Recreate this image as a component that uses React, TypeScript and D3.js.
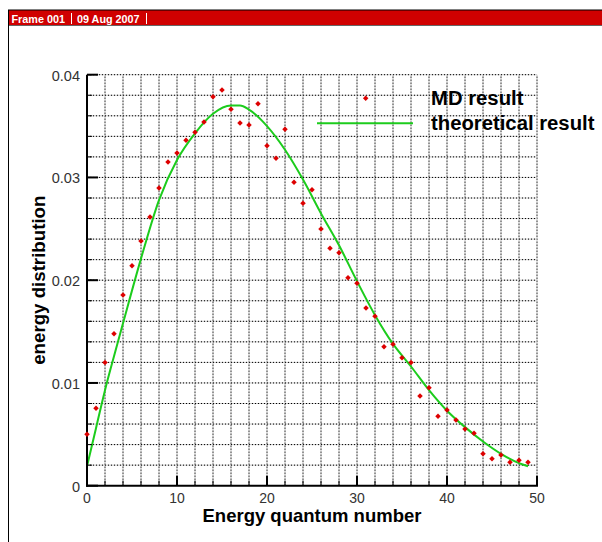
import React from "react";
import * as d3 from "d3";

const quanta = [0,1,2,3,4,5,6,7,8,9,10,11,12,13,14,15,16,17,18,19,20,21,22,23,24,25,26,27,28,29,30,31,32,33,34,35,36,37,38,39,40,41,42,43,44,45,46,47,48,49];
const mdResult = [0.0050,0.00753,0.0120,0.01479,0.01856,0.02141,0.02381,0.02615,0.02897,0.0315,0.03238,0.03361,0.0344,0.0354,0.03786,0.03851,0.03663,0.0353,0.0351,0.03718,0.03309,0.03186,0.03469,0.02953,0.02748,0.02881,0.02498,0.0231,0.02268,0.02024,0.0197,0.0173,0.01649,0.01353,0.01376,0.01246,0.0120,0.00873,0.00954,0.00675,0.00737,0.00639,0.00552,0.0051,0.00311,0.00263,0.00299,0.00228,0.00247,0.00228];

const theoryX = [0,1,2,3,4,6,8,10,12,14,16,17,18,20,22,24,26,28,30,32,34,36,38,40,42,44,46,48,49];
const theoryY = [0.0019,0.0056,0.0093,0.0126,0.0158,0.0221,0.0278,0.0317,0.0343,0.0362,0.0370,0.0370,0.0366,0.0350,0.0327,0.0298,0.0265,0.0234,0.0199,0.0166,0.0138,0.0116,0.0093,0.0073,0.0057,0.0043,0.0031,0.0022,0.0019];

const xMajorTicks = [0,10,20,30,40,50];
const yMajorTicks = [0,0.01,0.02,0.03,0.04];
const yTickLabels = ["0","0.01","0.02","0.03","0.04"];
const xGrid = [2,4,6,8,10,12,14,16,18,20,22,24,26,28,30,32,34,36,38,40,42,44,46,48,50];
const yGrid = [0.002,0.004,0.006,0.008,0.01,0.012,0.014,0.016,0.018,0.02,0.022,0.024,0.026,0.028,0.03,0.032,0.034,0.036,0.038,0.04];

const headerText1 = "Frame 001";
const headerText2 = "09 Aug 2007";
const xTitle = "Energy quantum number";
const yTitle = "energy distribution";
const legendLabels = ["MD result", "theoretical result"];

const FONT = "'Liberation Sans', Arial, Helvetica, sans-serif";

export default function App() {
  const x = d3.scaleLinear().domain([0, 50]).range([87, 537]);
  const y = d3.scaleLinear().domain([0, 0.04]).range([485.7, 74.7]);
  const [x0, x1] = x.range();
  const [y0, y1] = y.range();

  const line = d3
    .line<number>()
    .x((_, i) => x(theoryX[i]))
    .y((d) => y(d))
    .curve(d3.curveMonotoneX);

  const marker = d3.symbol().type(d3.symbolSquare).size(15)() as string;

  const red = "#dd0000";
  const green = "#1ccc1c";

  return (
    <svg
      width={602}
      height={542}
      style={{ position: "absolute", left: 0, top: 0, background: "#fff" }}
    >
      <rect x={0} y={0} width={602} height={542} fill="#fff" />
      {/* header */}
      <rect x={8} y={10} width={594} height={15.5} fill="#d00000" />
      <line x1={8} x2={602} y1={10} y2={10} stroke="#000" strokeWidth={1} />
      <line x1={8} x2={602} y1={25.5} y2={25.5} stroke="#666" strokeWidth={1} />
      <line x1={8.5} x2={8.5} y1={10} y2={542} stroke="#000" strokeWidth={1} />
      <text x={11.5} y={22.5} fill="#fff" fontFamily={FONT} fontWeight="bold" fontSize={10.8}>
        {headerText1}
      </text>
      <line x1={71.5} x2={71.5} y1={13} y2={24} stroke="#fff" strokeWidth={1} />
      <text x={77} y={22.5} fill="#fff" fontFamily={FONT} fontWeight="bold" fontSize={10.8}>
        {headerText2}
      </text>
      <line x1={146.5} x2={146.5} y1={13} y2={24} stroke="#fff" strokeWidth={1} />

      {/* grid */}
      <g>
        {xGrid.map((g) => (
          <g key={"xg" + g}>
            <line x1={x(g)} x2={x(g)} y1={y0} y2={y1} stroke="#c4c4c4" strokeWidth={1} />
            <line x1={x(g)} x2={x(g)} y1={y0} y2={y1} stroke="#000" strokeWidth={1} strokeDasharray="1,2" />
          </g>
        ))}
        {yGrid.map((g) => (
          <g key={"yg" + g}>
            <line x1={x0} x2={x1} y1={y(g)} y2={y(g)} stroke="#c4c4c4" strokeWidth={1} />
            <line x1={x0} x2={x1} y1={y(g)} y2={y(g)} stroke="#000" strokeWidth={1} strokeDasharray="1,2" />
          </g>
        ))}
      </g>

      {/* theoretical curve */}
      <path d={line(theoryY) as string} fill="none" stroke={green} strokeWidth={2} />

      {/* axes */}
      <line x1={x0} x2={x0} y1={y0 + 1} y2={y1} stroke="#000" strokeWidth={2} />
      <line x1={x0 - 1} x2={x1 + 1} y1={y0} y2={y0} stroke="#000" strokeWidth={2} />
      {xMajorTicks.map((t) => (
        <line key={"xt" + t} x1={x(t)} x2={x(t)} y1={y0} y2={y0 - 10} stroke="#000" strokeWidth={2} />
      ))}
      {xGrid.filter((g) => g % 10 !== 0).map((t) => (
        <line key={"xmt" + t} x1={x(t)} x2={x(t)} y1={y0} y2={y0 - 5} stroke="#000" strokeWidth={1} />
      ))}
      {yMajorTicks.map((t) => (
        <line key={"yt" + t} x1={x0} x2={x0 + 11} y1={y(t)} y2={y(t)} stroke="#000" strokeWidth={2} />
      ))}
      {yGrid.map((t) => (
        <line key={"ymt" + t} x1={x0} x2={x0 + 5} y1={y(t)} y2={y(t)} stroke="#000" strokeWidth={1} />
      ))}

      {/* tick labels */}
      {xMajorTicks.map((t) => (
        <text key={"xl" + t} x={x(t)} y={y0 + 16.8} textAnchor="middle" fontFamily={FONT} fontSize={14} fill="#333">
          {String(t)}
        </text>
      ))}
      {yMajorTicks.map((t, i) => (
        <text key={"yl" + t} x={80} y={y(t) + 6} textAnchor="end" fontFamily={FONT} fontSize={14.5} fill="#333">
          {yTickLabels[i]}
        </text>
      ))}

      {/* MD points */}
      {quanta.map((q, i) => (
        <path
          key={"p" + q}
          d={marker}
          transform={`translate(${x(q)},${y(mdResult[i])}) rotate(45)`}
          fill={red}
        />
      ))}

      {/* axis titles */}
      <text x={(x0 + x1) / 2} y={522} textAnchor="middle" fontFamily={FONT} fontWeight="bold" fontSize={18.5} fill="#000">
        {xTitle}
      </text>
      <text
        transform={`translate(45,${(y0 + y1) / 2}) rotate(-90)`}
        textAnchor="middle"
        fontFamily={FONT}
        fontWeight="bold"
        fontSize={18.7}
        fill="#000"
      >
        {yTitle}
      </text>

      {/* legend */}
      <path d={marker} transform="translate(365.7,98.3) rotate(45)" fill={red} />
      <line x1={317} x2={413} y1={123.3} y2={123.3} stroke={green} strokeWidth={2} />
      <text x={431} y={104.5} fontFamily={FONT} fontWeight="bold" fontSize={20.3} fill="#000">
        {legendLabels[0]}
      </text>
      <text x={431} y={130} fontFamily={FONT} fontWeight="bold" fontSize={20.3} fill="#000">
        {legendLabels[1]}
      </text>
    </svg>
  );
}
